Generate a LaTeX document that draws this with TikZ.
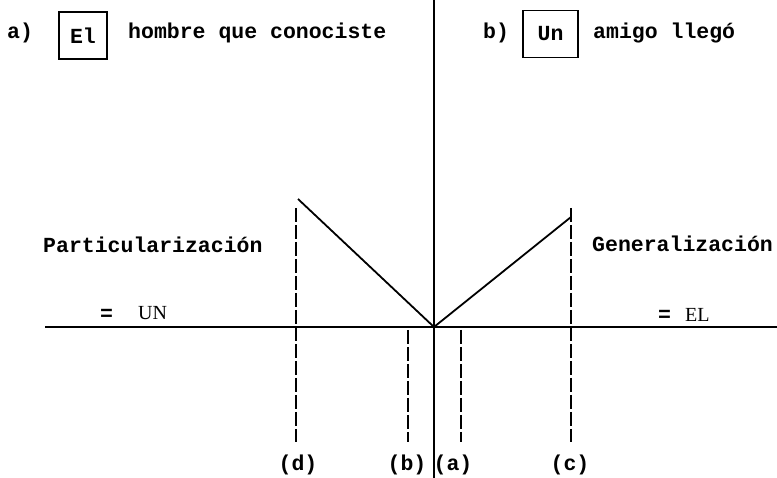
\documentclass[tikz,border=0pt]{standalone}
\usepackage{fontspec}
\setmainfont{Liberation Mono}
\newfontfamily\romfont{Liberation Serif}
\begin{document}
\begin{tikzpicture}[x=1pt,y=-1pt,
  txt/.style={inner sep=0pt,font=\fontsize{21.5}{24}\selectfont\bfseries},
  rtxt/.style={inner sep=0pt,font=\fontsize{20}{24}\selectfont\romfont},
  wordbox/.style={draw,line width=1.3pt,minimum width=#1,minimum height=47pt,inner sep=0pt,font=\fontsize{21.5}{24}\selectfont\bfseries},
  axisline/.style={line width=1.8pt},
  dashline/.style={line width=1.8pt,dash pattern=on 14pt off 3pt}]
\useasboundingbox (0,0) rectangle (777,478);
% axes
\coordinate (top) at (434,0);
\coordinate (bot) at (434,478);
\coordinate (axl) at (45,327);
\coordinate (axr) at (777,327);
\coordinate (O) at (434,327);
\coordinate (L) at (298,199);
\coordinate (R) at (571,217);
\draw[axisline] (top) -- (bot);
\draw[axisline] (axl) -- (axr);
\draw[axisline] (O) -- (L);
\draw[axisline] (O) -- (R);
% dashed lines
\coordinate (dT) at (296,208); \coordinate (dB) at (296,442);
\coordinate (cT) at (571,208); \coordinate (cB) at (571,442);
\coordinate (bT) at (408,330); \coordinate (bB) at (408,442);
\coordinate (aT) at (461,330); \coordinate (aB) at (461,442);
\draw[dashline] (dT) -- (dB);
\draw[dashline] (cT) -- (cB);
\draw[dashline] (bT) -- (bB);
\draw[dashline] (aT) -- (aB);
% top texts
\node[txt,anchor=west] (ta) at (7,33) {a)};
\node[wordbox=48pt] (el) at (83,35.5) {El};
\node[txt,anchor=west] (hombre) at (128,33) {hombre que conociste};
\node[txt,anchor=west] (tb) at (483,33) {b)};
\node[wordbox=55pt] (un) at (550.5,34) {Un};
\node[txt,anchor=west] (amigo) at (593,33) {amigo llegó};
% side labels
\node[txt,anchor=west] (part) at (43,245) {Particularización};
\node[txt,anchor=west] (gen) at (592,244) {Generalización};
\node[txt,anchor=west] (eq1) at (100,315) {=};
\node[rtxt,anchor=west] (UN) at (138,313) {UN};
\node[txt,anchor=west] (eq2) at (658,316) {=};
\node[rtxt,anchor=west] (EL) at (685,315) {EL};
% bottom labels
\node[txt] (ld) at (298,465) {(d)};
\node[txt] (lb) at (407,465) {(b)};
\node[txt] (la) at (453,465) {(a)};
\node[txt] (lc) at (570,465) {(c)};
\end{tikzpicture}
\end{document}
